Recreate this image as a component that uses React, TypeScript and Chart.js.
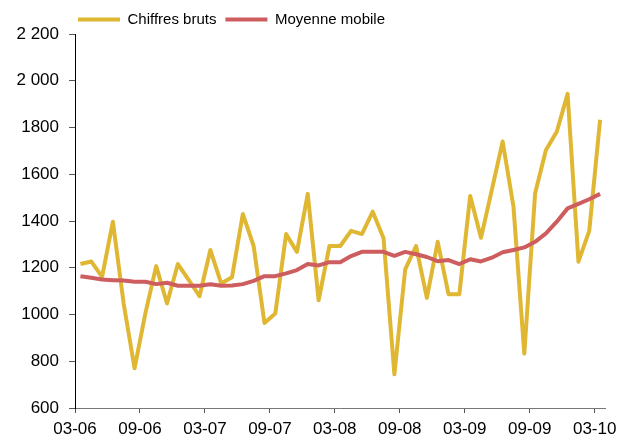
import React, { useEffect, useRef } from 'react';
import { Chart, registerables } from 'chart.js';
Chart.register(...registerables);

const seriesNames = ['Chiffres bruts', 'Moyenne mobile'];
const xTickLabels = ['03-06', '09-06', '03-07', '09-07', '03-08', '09-08', '03-09', '09-09', '03-10'];
const xTickPositions = [-0.5, 5.5, 11.5, 17.5, 23.5, 29.5, 35.5, 41.5, 47.5];
const yTickValues = [600, 800, 1000, 1200, 1400, 1600, 1800, 2000, 2200];
const yTickLabels = ['600', '800', '1000', '1200', '1400', '1600', '1800', '2 000', '2 200'];

const chiffresBruts = [
  1216, 1227, 1161, 1397, 1045, 770, 1005, 1207, 1047, 1216, 1148, 1078,
  1276, 1133, 1159, 1430, 1293, 964, 1004, 1344, 1268, 1516, 1061, 1293,
  1293, 1358, 1344, 1440, 1326, 744, 1193, 1293, 1071, 1311, 1087, 1087,
  1507, 1328, 1533, 1740, 1461, 833, 1519, 1704, 1782, 1944, 1226, 1358,
  1833,
];
const moyenneMobile = [
  1164, 1157, 1150, 1147, 1145, 1140, 1140, 1130, 1136, 1123, 1123, 1123,
  1129, 1123, 1124, 1130, 1144, 1164, 1164, 1176, 1190, 1216, 1210, 1224,
  1224, 1250, 1268, 1268, 1268, 1251, 1268, 1258, 1246, 1228, 1233, 1216,
  1236, 1227, 1243, 1266, 1276, 1287, 1311, 1347, 1397, 1454, 1473, 1493,
  1516,
];

const YELLOW = '#E0B733';
const RED = '#CD5D5E';
const FONT = "'Liberation Sans', Arial, sans-serif";

export default function App() {
  const ref = useRef<HTMLCanvasElement>(null);
  useEffect(() => {
    const legendShift = {
      id: 'legendShift',
      afterLayout(chart: any) {
        if (chart.legend) {
          chart.legend.left = 69;
          chart.legend.top = chart.legend.top + 3;
        }
      },
    };
    const chart = new Chart(ref.current as HTMLCanvasElement, {
      type: 'line',
      data: {
        datasets: [
          {
            label: seriesNames[0],
            data: chiffresBruts.map((y, i) => ({ x: i, y })),
            borderColor: YELLOW,
            backgroundColor: YELLOW,
            borderWidth: 4,
            pointRadius: 0,
            borderJoinStyle: 'round',
            order: 2,
          },
          {
            label: seriesNames[1],
            data: moyenneMobile.map((y, i) => ({ x: i, y })),
            borderColor: RED,
            backgroundColor: RED,
            borderWidth: 4,
            pointRadius: 0,
            borderJoinStyle: 'round',
            order: 1,
          },
        ],
      },
      options: {
        responsive: true,
        maintainAspectRatio: false,
        animation: false,
        layout: { padding: { left: 0, right: 23.5, top: 0, bottom: 0 } },
        plugins: {
          legend: {
            position: 'top',
            align: 'start',
            labels: {
              boxWidth: 42,
              boxHeight: 4,
              padding: 9,
              color: '#000',
              font: { family: FONT, size: 15 },
              sort: (a: any, b: any) => a.datasetIndex - b.datasetIndex,
              generateLabels: (c: any) =>
                (Chart.defaults.plugins.legend.labels as any)
                  .generateLabels(c)
                  .map((l: any) => ({ ...l, lineWidth: 0 })),
            },
          },
          tooltip: { enabled: false },
        },
        scales: {
          x: {
            type: 'linear',
            min: -0.5,
            max: 48.5,
            afterBuildTicks: (s: any) => {
              s.ticks = xTickPositions.map((v) => ({ value: v }));
            },
            afterFit: (s: any) => {
              s.height = 28;
            },
            grid: { drawOnChartArea: false, drawTicks: true, tickLength: 5, color: '#555' },
            border: { display: true, color: '#777', width: 1 },
            ticks: {
              autoSkip: false,
              maxRotation: 0,
              minRotation: 0,
              padding: 6,
              color: '#000',
              font: { family: FONT, size: 17 },
              callback: (_v: any, i: number) => xTickLabels[i],
            },
          },
          y: {
            type: 'linear',
            min: 600,
            max: 2200,
            afterBuildTicks: (s: any) => {
              s.ticks = yTickValues.map((v) => ({ value: v }));
            },
            afterFit: (s: any) => {
              s.width = 75;
            },
            grid: { drawOnChartArea: false, drawTicks: true, tickLength: 6, color: '#555' },
            border: { display: true, color: '#000', width: 1 },
            ticks: {
              padding: 10,
              color: '#000',
              font: { family: FONT, size: 17 },
              callback: (_v: any, i: number) => yTickLabels[i],
            },
          },
        },
      },
      plugins: [legendShift],
    } as any);
    return () => chart.destroy();
  }, []);
  return (
    <div style={{ position: 'fixed', left: 0, top: 0, width: 629, height: 436, background: '#fff' }}>
      <canvas ref={ref} />
    </div>
  );
}
